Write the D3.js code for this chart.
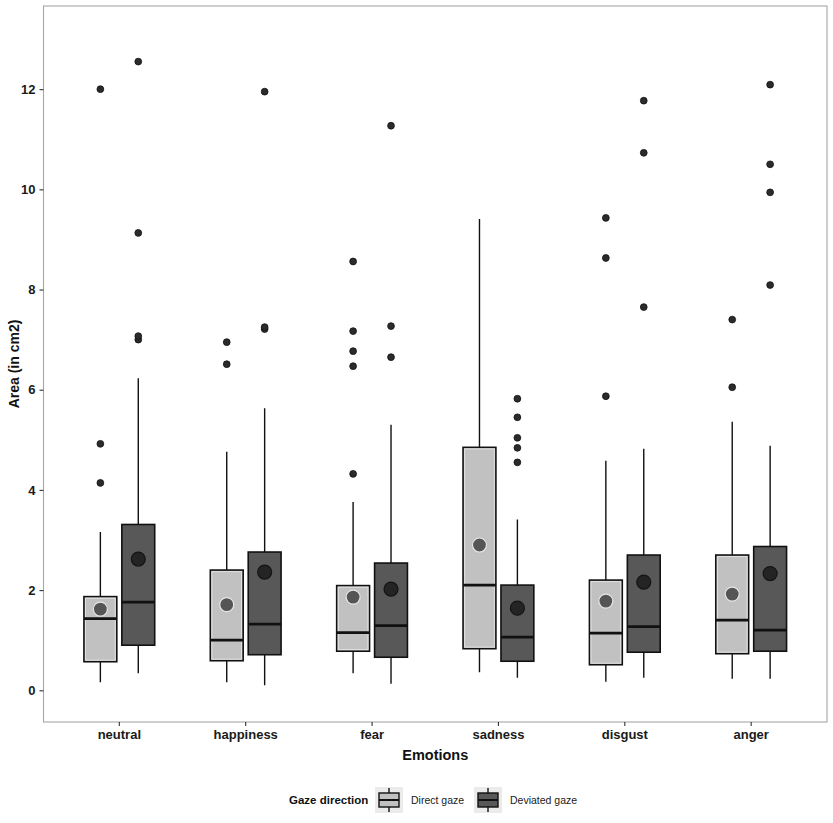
<!DOCTYPE html>
<html>
<head>
<meta charset="utf-8">
<script src="https://cdn.jsdelivr.net/npm/d3@7"></script>
<style>
  body { margin: 0; background: #fff; }
  text { font-family: "Liberation Sans", Arial, sans-serif; }
</style>
</head>
<body>
<div id="app"></div>
<script>
const emotions = ["neutral", "happiness", "fear", "sadness", "disgust", "anger"];
const gazes = ["Direct gaze", "Deviated gaze"];

// box stats per emotion: [low whisker, q1, median, q3, high whisker]
const directStats = [
  [0.16, 0.57, 1.43, 1.87, 3.16],
  [0.16, 0.59, 1.00, 2.40, 4.76],
  [0.34, 0.78, 1.15, 2.09, 3.76],
  [0.36, 0.83, 2.10, 4.85, 9.41],
  [0.17, 0.51, 1.14, 2.20, 4.58],
  [0.23, 0.73, 1.40, 2.70, 5.36]
];
const deviatedStats = [
  [0.34, 0.90, 1.76, 3.31, 6.23],
  [0.10, 0.71, 1.32, 2.76, 5.63],
  [0.13, 0.66, 1.29, 2.54, 5.30],
  [0.25, 0.58, 1.06, 2.10, 3.41],
  [0.25, 0.76, 1.27, 2.70, 4.82],
  [0.23, 0.78, 1.20, 2.87, 4.88]
];
const directMeans = [1.62, 1.71, 1.86, 2.90, 1.78, 1.92];
const deviatedMeans = [2.62, 2.36, 2.02, 1.64, 2.16, 2.33];
const directOutliers = [
  [4.14, 4.92, 12.00],
  [6.51, 6.95],
  [4.32, 6.47, 6.77, 7.17, 8.56],
  [],
  [5.87, 8.63, 9.43],
  [6.05, 7.40]
];
const deviatedOutliers = [
  [7.00, 7.07, 9.13, 12.55],
  [7.21, 7.25, 11.95],
  [6.65, 7.27, 11.27],
  [4.55, 4.84, 5.04, 5.45, 5.82],
  [7.65, 10.73, 11.77],
  [8.09, 9.94, 10.50, 12.09]
];
const yTicks = [0, 2, 4, 6, 8, 10, 12];

const W = 833, H = 823;
const panel = { left: 43.5, right: 827, top: 6, bottom: 722 };

const fills = { "Direct gaze": "#c1c1c1", "Deviated gaze": "#585858" };
const meanFill = { "Direct gaze": "#555555", "Deviated gaze": "#242424" };
const meanStroke = { "Direct gaze": "#e6e6e6", "Deviated gaze": "#141414" };

const svg = d3.select("#app").append("svg")
  .attr("width", W).attr("height", H);

const x = d3.scaleBand()
  .domain(emotions)
  .range([panel.left, panel.right])
  .paddingInner(0)
  .paddingOuter(0.1);
const step = x.step();
const xSub = d3.scalePoint().domain(gazes).range([-0.15 * step, 0.15 * step]);
const boxW = 0.26 * step;

const y = d3.scaleLinear()
  .domain([-0.633, 13.66])
  .range([panel.bottom, panel.top]);

// build rows
const rows = [];
emotions.forEach((e, i) => {
  [[gazes[0], directStats, directMeans, directOutliers],
   [gazes[1], deviatedStats, deviatedMeans, deviatedOutliers]].forEach(([g, st, mn, out]) => {
    const s = st[i];
    rows.push({
      emotion: e, gaze: g,
      lo: s[0], q1: s[1], med: s[2], q3: s[3], hi: s[4],
      mean: mn[i], outliers: out[i],
      cx: x(e) + step / 2 + xSub(g)
    });
  });
});

// panel border
svg.append("rect")
  .attr("x", panel.left).attr("y", panel.top)
  .attr("width", panel.right - panel.left).attr("height", panel.bottom - panel.top)
  .attr("fill", "none").attr("stroke", "#a6a6a6").attr("stroke-width", 1.1);

// y axis
const yAxis = svg.append("g")
  .attr("transform", `translate(${panel.left},0)`)
  .call(d3.axisLeft(y).tickValues(yTicks).tickSize(4).tickPadding(4));
yAxis.select(".domain").remove();
yAxis.selectAll(".tick line").attr("stroke", "#333").attr("stroke-width", 1.1);
yAxis.selectAll(".tick text")
  .attr("fill", "#1a1a1a").style("font-size", "13px").style("font-weight", "bold")
  .style("font-family", "Liberation Sans, Arial, sans-serif");

// x axis
const xAxis = svg.append("g")
  .attr("transform", `translate(0,${panel.bottom})`)
  .call(d3.axisBottom(x).tickSize(4).tickPadding(4));
xAxis.select(".domain").remove();
xAxis.selectAll(".tick line").attr("stroke", "#333").attr("stroke-width", 1.1);
xAxis.selectAll(".tick text")
  .attr("fill", "#1a1a1a").style("font-size", "13px").style("font-weight", "bold")
  .style("font-family", "Liberation Sans, Arial, sans-serif");

// whiskers
svg.selectAll(".whisker")
  .data(rows)
  .join("path")
  .attr("class", "whisker")
  .attr("d", d => `M${d.cx},${y(d.hi)}V${y(d.q3)}M${d.cx},${y(d.q1)}V${y(d.lo)}`)
  .attr("stroke", "#111").attr("stroke-width", 1.4).attr("fill", "none");

// outliers
svg.selectAll(".outlier")
  .data(rows.flatMap(d => d.outliers.map(v => ({ cx: d.cx, v }))))
  .join("circle")
  .attr("class", "outlier")
  .attr("cx", d => d.cx).attr("cy", d => y(d.v))
  .attr("r", 3.4)
  .attr("fill", "#2b2b2b").attr("stroke", "#111").attr("stroke-width", 0.8);

// boxes
svg.selectAll(".box")
  .data(rows)
  .join("rect")
  .attr("class", "box")
  .attr("x", d => d.cx - boxW / 2).attr("width", boxW)
  .attr("y", d => y(d.q3)).attr("height", d => y(d.q1) - y(d.q3))
  .attr("fill", d => fills[d.gaze])
  .attr("stroke", "#111").attr("stroke-width", 1.6);

// light inner edge on the light boxes
svg.selectAll(".inner")
  .data(rows.filter(d => d.gaze === gazes[0]))
  .join("rect")
  .attr("class", "inner")
  .attr("x", d => d.cx - boxW / 2 + 1.6).attr("width", boxW - 3.2)
  .attr("y", d => y(d.q3) + 1.6).attr("height", d => y(d.q1) - y(d.q3) - 3.2)
  .attr("fill", "none").attr("stroke", "#e4e4e4").attr("stroke-width", 0.9);

// medians
svg.selectAll(".median")
  .data(rows)
  .join("line")
  .attr("class", "median")
  .attr("x1", d => d.cx - boxW / 2).attr("x2", d => d.cx + boxW / 2)
  .attr("y1", d => y(d.med)).attr("y2", d => y(d.med))
  .attr("stroke", "#111").attr("stroke-width", 2.8);

// means
svg.selectAll(".mean")
  .data(rows)
  .join("circle")
  .attr("class", "mean")
  .attr("cx", d => d.cx).attr("cy", d => y(d.mean))
  .attr("r", 7)
  .attr("fill", d => meanFill[d.gaze])
  .attr("stroke", d => meanStroke[d.gaze]).attr("stroke-width", 1.2);

// axis titles
svg.append("text")
  .attr("x", (panel.left + panel.right) / 2).attr("y", 760)
  .attr("text-anchor", "middle")
  .style("font-size", "14.5px").style("font-weight", "bold").attr("fill", "#111")
  .text("Emotions");

svg.append("text")
  .attr("transform", `translate(19,${(panel.top + panel.bottom) / 2}) rotate(-90)`)
  .attr("text-anchor", "middle")
  .style("font-size", "14px").style("font-weight", "bold").attr("fill", "#111")
  .text("Area (in cm2)");

// legend
const legend = svg.append("g").attr("transform", "translate(0,800)");
legend.append("text")
  .attr("x", 289).attr("y", 4)
  .style("font-size", "11.5px").style("font-weight", "bold").attr("fill", "#111")
  .text("Gaze direction");

const keyX = { "Direct gaze": 375, "Deviated gaze": 474 };
gazes.forEach(g => {
  const k = legend.append("g").attr("transform", `translate(${keyX[g]},-13)`);
  k.append("rect").attr("width", 28).attr("height", 26).attr("fill", "#ebebeb");
  k.append("line").attr("x1", 14).attr("x2", 14).attr("y1", 1).attr("y2", 25)
    .attr("stroke", "#111").attr("stroke-width", 1.4);
  k.append("rect").attr("x", 4).attr("y", 6).attr("width", 20).attr("height", 14)
    .attr("fill", fills[g]).attr("stroke", "#111").attr("stroke-width", 1.4);
  k.append("line").attr("x1", 4).attr("x2", 24).attr("y1", 13).attr("y2", 13)
    .attr("stroke", "#111").attr("stroke-width", 2);
  legend.append("text")
    .attr("x", keyX[g] + 36).attr("y", 4)
    .style("font-size", "10.5px").attr("fill", "#1a1a1a")
    .text(g);
});
</script>
</body>
</html>
